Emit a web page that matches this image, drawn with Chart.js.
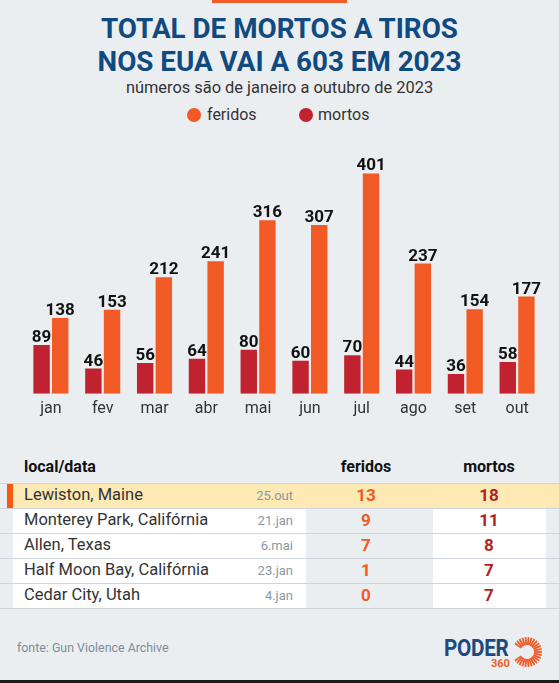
<!DOCTYPE html>
<html>
<head>
<meta charset="utf-8">
<script src="https://cdn.jsdelivr.net/npm/chart.js@4.4.0/dist/chart.umd.min.js"></script>
<style>
  body { margin: 0; background: #ebeef1; font-family: Roboto, sans-serif; }
  #pagina { position: relative; width: 559px; height: 683px; overflow: hidden; background: #ebeef1; }
  .abs { position: absolute; white-space: nowrap; }
  #titulo { left: 0; width: 559px; top: 12px; text-align: center; font-weight: bold; font-size: 27.8px; line-height: 33px; color: #0f4a80; }
  #subtitulo { left: 0; width: 559px; top: 78px; text-align: center; font-size: 16.4px; line-height: 19px; color: #333; }
  .bola { position: absolute; width: 14px; height: 14px; border-radius: 50%; top: 108px; }
  .leg { top: 105px; font-size: 16px; line-height: 20px; color: #333; }
  #grafico { position: absolute; left: 0; top: 120px; width: 559px; height: 320px; }
  .cab { top: 457px; font-size: 16px; line-height: 20px; font-weight: bold; color: #111; }
  .linha { position: absolute; left: 0; width: 559px; height: 1px; background: #cfd5dc; }
  .cel { position: absolute; height: 24px; }
  .txt { font-size: 16.5px; line-height: 22px; color: #333; }
  .dt { font-size: 13px; line-height: 22px; color: #8a97a3; text-align: right; }
  .num { font-size: 17px; line-height: 22px; font-weight: bold; text-align: center; }
  #fonte { left: 17px; top: 640px; font-size: 12.4px; line-height: 16px; color: #7f8c98; }
</style>
</head>
<body>
<div id="pagina">
  <div class="abs" style="left:212px;top:0;width:135px;height:3px;background:#f15a24"></div>
  <div id="titulo" class="abs">TOTAL DE MORTOS A TIROS<br>NOS EUA VAI A 603 EM 2023</div>
  <div id="subtitulo" class="abs">números são de janeiro a outubro de 2023</div>
  <div class="bola" style="left:187px;background:#f15a24"></div>
  <div class="abs leg" style="left:207px">feridos</div>
  <div class="bola" style="left:299px;background:#c0232f"></div>
  <div class="abs leg" style="left:318px">mortos</div>
  <canvas id="grafico" width="559" height="320"></canvas>
  <div id="tabela"></div>
  <div id="fonte" class="abs">fonte: Gun Violence Archive</div>
  <div class="abs" style="left:444px;top:634px;font-size:23.5px;line-height:28px;font-weight:bold;color:#1b4a7f;transform:scaleX(0.88);transform-origin:left top;letter-spacing:-0.3px">PODER</div>
  <div class="abs" style="left:491px;top:657px;font-size:11px;line-height:14px;font-weight:bold;color:#f15a24">360</div>
  <svg id="sol" class="abs" style="left:510px;top:634px" width="36" height="36"></svg>
  <div class="abs" style="left:0;top:680px;width:559px;height:3px;background:#1a1a1a"></div>
</div>
<script>
const meses = ["jan", "fev", "mar", "abr", "mai", "jun", "jul", "ago", "set", "out"];
const mortos = [89, 46, 56, 64, 80, 60, 70, 44, 36, 58];
const feridos = [138, 153, 212, 241, 316, 307, 401, 237, 154, 177];

const locais = ["Lewiston, Maine", "Monterey Park, Califórnia", "Allen, Texas", "Half Moon Bay, Califórnia", "Cedar City, Utah"];
const datas = ["25.out", "21.jan", "6.mai", "23.jan", "4.jan"];
const feridosLocal = [13, 9, 7, 1, 0];
const mortosLocal = [18, 11, 8, 7, 7];

Chart.defaults.font.family = "Roboto";

// valores em cima das barras
const rotulos = {
  id: "rotulos",
  afterDatasetsDraw(chart) {
    const ctx = chart.ctx;
    ctx.save();
    ctx.font = "bold 17px Roboto";
    ctx.fillStyle = "#111";
    ctx.textAlign = "center";
    ctx.textBaseline = "alphabetic";
    chart.data.datasets.forEach((ds, i) => {
      chart.getDatasetMeta(i).data.forEach((bar, j) => {
        ctx.fillText(ds.data[j], bar.x, bar.y - 3);
      });
    });
    ctx.restore();
  },
};

var ctx = document.getElementById("grafico");

var grafico = new Chart(ctx, {
  type: "bar",
  data: {
    labels: meses,
    datasets: [
      {
        label: "mortos",
        data: mortos,
        backgroundColor: "#c0232f",
        categoryPercentage: 0.72,
        barPercentage: 0.88,
      },
      {
        label: "feridos",
        data: feridos,
        backgroundColor: "#f15a24",
        categoryPercentage: 0.72,
        barPercentage: 0.88,
      },
    ],
  },
  options: {
    responsive: false,
    animation: false,
    layout: { padding: { left: 25, right: 16, top: 21, bottom: 15 } },
    plugins: {
      legend: { display: false },
      tooltip: { enabled: false },
    },
    scales: {
      x: {
        grid: { display: false, drawTicks: false },
        border: { display: false },
        ticks: { color: "#333", font: { size: 16 }, padding: 6 },
      },
      y: { display: false, min: 0, max: 460 },
    },
  },
  plugins: [rotulos],
});

// tabela dos maiores ataques
var tabela = document.getElementById("tabela");
var html = "";
html += '<div class="abs cab" style="left:24px">local/data</div>';
html += '<div class="abs cab" style="left:306px;width:120px;text-align:center">feridos</div>';
html += '<div class="abs cab" style="left:429px;width:120px;text-align:center">mortos</div>';
html += '<div class="linha" style="top:483px"></div>';
for (var i = 0; i < locais.length; i++) {
  var y = 484 + i * 25;
  if (i == 0) {
    html += '<div class="cel" style="top:' + y + 'px;left:13px;width:546px;background:#fde9b4"></div>';
    html += '<div class="cel" style="top:' + y + 'px;left:7px;width:6px;background:#f4590f"></div>';
  } else {
    html += '<div class="cel" style="top:' + y + 'px;left:13px;width:293px;background:#fff"></div>';
    html += '<div class="cel" style="top:' + y + 'px;left:433px;width:113px;background:#fff"></div>';
  }
  html += '<div class="abs txt" style="top:' + y + 'px;left:24px">' + locais[i] + "</div>";
  html += '<div class="abs dt" style="top:' + (y + 1) + 'px;left:193px;width:100px">' + datas[i] + "</div>";
  html += '<div class="abs num" style="top:' + y + 'px;left:326px;width:80px;color:#f15a24">' + feridosLocal[i] + "</div>";
  html += '<div class="abs num" style="top:' + y + 'px;left:449px;width:80px;color:#b11f29">' + mortosLocal[i] + "</div>";
  html += '<div class="linha" style="top:' + (y + 24) + 'px"></div>';
}
tabela.innerHTML = html;

// sol do logo
var sol = document.getElementById("sol");
var raios = "";
for (var a = 0; a < 360; a += 12) {
  if (a > 150 && a < 210) continue;
  var r = (a * Math.PI) / 180;
  var x1 = 17 + 7 * Math.cos(r), y1 = 18 + 7 * Math.sin(r);
  var x2 = 17 + 15 * Math.cos(r), y2 = 18 + 15 * Math.sin(r);
  raios += '<line x1="' + x1 + '" y1="' + y1 + '" x2="' + x2 + '" y2="' + y2 + '" stroke="#f15a24" stroke-width="1.8"/>';
}
sol.innerHTML = raios;
</script>
</body>
</html>
